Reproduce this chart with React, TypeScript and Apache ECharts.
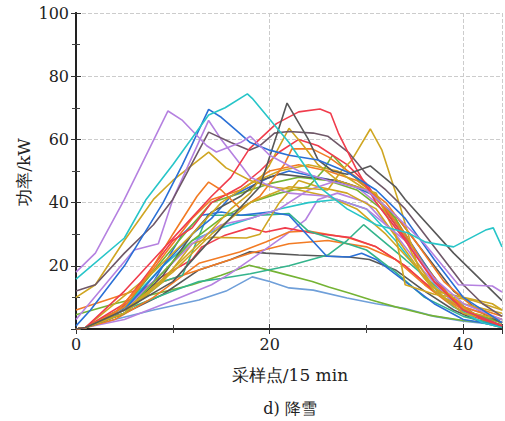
import React, { useEffect, useRef } from "react";
import * as echarts from "echarts";

// x: sampling point index (15 min), y: power (kW)
const xTicks = [0, 20, 40];
const yTicks = [20, 40, 60, 80, 100];

const purpleA = [[0,18],[2,24],[5,41],[9.5,69],[11,66],[13.5,58],[14.5,56],[17,59],[18,61],[20,55],[23,50],[26,47],[30,44],[33,36],[36,27],[39.5,14],[43,13.6],[44,11.7]];
const purpleB = [[0,3],[3,14],[6,25],[8.5,27],[10,41],[13.7,66],[15,60],[16.5,54],[18,48],[19.5,46],[22,43],[26,42],[30,38],[34,28],[37,16],[40,8],[44,3]];
const cyanA = [[0,15.8],[5,28.8],[7.2,40.8],[10,52],[13.7,67.7],[15.4,70],[17.7,74.4],[18.2,73],[22,59],[25.1,45],[28,38],[31,33],[34.3,30.4],[36.1,27.5],[39,26],[42.3,31.3],[43.1,32],[44,26]];
const blueA = [[0,1],[1.5,6],[5,20],[9,40],[11,52],[13.7,69.5],[15,67],[16.5,63],[18,59],[20,56.6],[22,55],[25,53.5],[28,49.7],[31,44],[34,35],[37,22],[40,10],[44,2]];
const grayA = [[0,0],[1,0.5],[5,6],[10,15],[15,32],[19,45],[21.8,71.5],[24,60],[25,53.5],[26.5,50],[28,49],[30.4,51.6],[33,45],[34,41],[39,24],[44,9]];
const brownA = [[0,12],[2,14],[5,24],[8,33],[10,41],[13.7,62.3],[16,59],[17.9,56.6],[19,58],[20.5,62],[22,62.5],[24.5,62],[26,61],[28.2,55.7],[30,49],[32,44],[34,38],[36,30],[38,22],[40,14],[42,8],[44,4]];
const redA = [[0,0],[1,0.5],[5,12],[8,22],[11,32],[14,42],[16,48],[17.9,57],[20.7,65],[23,68.7],[25.2,69.6],[26.3,68.3],[27.1,62],[28.9,51],[31,40],[34,28],[37,15],[40,6],[44,1]];
const yellowA = [[0,0],[1,0.5],[5,6],[10,18],[14,30],[18,40],[22,45],[26,44],[27.4,50],[28.5,53.5],[30.4,63.3],[31.6,56.6],[33.5,38.6],[34.5,28],[35.5,18],[37,12],[40,10],[43,8],[44,6]];
const yellowB = [[0,10],[2,14],[5,28],[8,41],[10,47],[13.7,56],[15.5,51],[18,47],[20,45],[23,44],[26,42],[29,38],[32,30],[35,20],[38,10],[41,5],[44,3]];
const yellowC = [[0,0],[1,0.5],[5,5],[9,16],[13,28],[16,38],[18,43],[20,52],[22,63.5],[23.5,58],[25,52],[27,47],[29,45],[31,43],[33,30],[34,14],[37,11],[41,9],[44,6]];
const yellowD = [[0,0],[1,0.5],[4,8],[8,18],[12,30],[15,40],[18,46],[21,50],[24,52],[27,50],[30,44],[33,35],[35,22],[37,13],[40,8],[44,5]];
const yellowE = [[0,0],[1,0.5],[5,5],[9,15],[12,27],[14,29],[17.6,28.8],[19,30],[21,40],[23,47],[25,45],[28,43],[31,38],[34,25],[37,12],[40,5],[44,2]];
const lightBlue = [[0,0],[1,0.5],[4,3],[8,6],[12.7,9.2],[15.5,12],[18.2,16.5],[20,15],[22,13],[24.5,12.3],[28,9.8],[31,8],[34,6.5],[37,4],[40,2.5],[43,1.5],[44,1]];
const greenLow = [[0,4.5],[4,8],[8,11],[12,14],[15,17],[17.9,20.2],[20.7,18],[24.4,15],[26.1,13.3],[28.2,11.4],[30.5,9.2],[33,7],[36.4,4.4],[40,2.7],[42.6,1.9],[44,1.5]];
const grayLow = [[0,0],[1,0.5],[5,5],[9,11],[12.7,18.7],[16,22],[17.9,24.4],[19.6,24],[23,23.4],[28.2,22.8],[30.3,22],[33,18.7],[36,12],[39,6],[42,2],[44,0.5]];
const blueB = [[0,0],[1,0.5],[4,4],[8,15],[11,30],[13,36],[15,37],[17,36],[20,37],[22,36],[23.5,31],[24.4,28],[25.9,23],[28.2,22.8],[29.5,24],[31,22],[34,15],[37,8],[40,3],[44,1]];
const tealA = [[0,0],[1,0.5],[5,5],[9,15],[11,17],[13.6,36],[16,36],[19,36],[22,36.5],[24,31],[27,28],[30,25],[33,18],[36,10],[40,4],[44,1]];
const greenRise = [[0,0],[1,0.5],[5,6],[10,12],[12.7,15],[15,16],[18,17.5],[22,20],[26,23.4],[28,28],[29.7,33],[30.5,31],[34,22],[37,14],[40,6],[44,1]];
const redB = [[0,0],[1,0.5],[4,5],[8,15],[12,22],[13,26],[15.4,29.7],[17.9,32],[19.6,30.7],[21.6,32],[24.4,30.4],[28.2,29],[31,26],[34,20],[37,12],[40,5],[44,1]];
const orangeA = [[0,0],[1,0.5],[4,3],[8,10],[12.7,20.8],[16.9,24.4],[19.6,27.5],[22,30.7],[24,31],[28.2,28.8],[31,26],[34,20],[37,12],[40,6],[44,2]];
const purpleC = [[0,0],[1,0.5],[5,3],[10,9],[14,14],[16,17.7],[19,24],[21.3,29],[23.7,34.5],[25,41],[27,43],[30,40],[33,30],[36,18],[39,8],[42,3],[44,1]];
const orangeB = [[0,0],[1,0.5],[4,5],[7,15],[10,30],[12.5,42],[13.7,46.5],[15,44],[17,38],[19,42],[21.5,52],[22.3,57],[24.4,57],[26.1,54.4],[29,48],[31,42],[34,30],[37,15],[40,7],[44,3]];
const greenB = [[0,0],[1,0.5],[5,5],[9,18],[12,28],[15,35],[18,40],[21,43],[24,45],[25.5,50],[26.5,55],[28,50],[30,45],[33,35],[36,20],[39,9],[42,3],[44,1]];
const orangeC = [[0,6],[3,9],[6,12],[10,16],[14,20],[18,24],[22,27],[26,28],[30,26],[33,22],[36,14],[39,7],[42,3],[44,1]];
const redC = [[0,0],[1,0.5],[5,8],[8,20],[10,28],[12,32],[14,40],[17,45],[19,50],[21,56],[23,60],[25,58],[28,52],[30,46],[33,33],[36,20],[39,9],[42,3],[44,1]];
const blueC = [[0,0],[1,0.5],[5,6],[9,20],[12,30],[14,35],[16,42],[18,45],[20,48],[22,50],[25,48],[28,46],[31,42],[34,30],[37,16],[40,6],[44,1]];
const cyanB = [[0,0],[1,0.5],[5,7],[9,20],[12,28],[15,32],[18,35],[21,38],[24,40],[27,41],[30,38],[33,28],[36,16],[39,7],[42,2],[44,0.5]];
const greenC = [[0,0],[1,0.5],[5,7],[9,22],[12,33],[14,40],[17,43],[20,46],[23,48],[26,47],[29,44],[32,37],[35,25],[38,12],[41,5],[44,2]];
const purpleD = [[0,0],[1,0.5],[5,6],[9,18],[12,27],[15,33],[18,35],[21,38],[24,44],[27,47],[29,45],[31,40],[34,28],[37,15],[40,7],[44,3]];
const orangeD = [[0,0],[1,0.5],[5,7],[9,23],[12,35],[14,41],[17,44],[20,50],[23,52],[26,50],[29,47],[32,40],[35,28],[38,15],[41,7],[44,4]];
const grayC = [[0,0],[1,0.5],[5,5],[9,17],[12,30],[14,37],[17,42],[19,47],[21,49],[24,48],[27,47],[30,44],[33,36],[36,24],[39,12],[42,5],[44,2]];

const C = {
  purple: "#b581e0",
  cyan: "#27c5c8",
  blue: "#2a70d6",
  gray: "#585858",
  brown: "#6f5868",
  red: "#f03c4c",
  yellow: "#cfa622",
  lightBlue: "#6f9fd9",
  green: "#74b334",
  teal: "#34b48c",
  orange: "#f27b24",
};

const lines: [string, number[][], string][] = [
  ["lightBlue", lightBlue, C.lightBlue],
  ["greenLow", greenLow, C.green],
  ["grayLow", grayLow, C.gray],
  ["orangeC", orangeC, C.orange],
  ["greenRise", greenRise, C.teal],
  ["purpleC", purpleC, C.purple],
  ["orangeA", orangeA, C.orange],
  ["redB", redB, C.red],
  ["tealA", tealA, C.teal],
  ["blueB", blueB, C.blue],
  ["cyanB", cyanB, C.cyan],
  ["yellowE", yellowE, C.yellow],
  ["greenC", greenC, C.green],
  ["purpleD", purpleD, C.purple],
  ["blueC", blueC, C.blue],
  ["grayC", grayC, C.gray],
  ["orangeD", orangeD, C.orange],
  ["yellowD", yellowD, C.yellow],
  ["greenB", greenB, C.green],
  ["redC", redC, C.red],
  ["orangeB", orangeB, C.orange],
  ["yellowB", yellowB, C.yellow],
  ["yellowC", yellowC, C.yellow],
  ["yellowA", yellowA, C.yellow],
  ["purpleB", purpleB, C.purple],
  ["brownA", brownA, C.brown],
  ["redA", redA, C.red],
  ["grayA", grayA, C.gray],
  ["blueA", blueA, C.blue],
  ["purpleA", purpleA, C.purple],
  ["cyanA", cyanA, C.cyan],
];

const FONT = "DejaVu Serif";

export default function App() {
  const ref = useRef<HTMLDivElement>(null);
  useEffect(() => {
    document.body.style.margin = "0";
    if (!ref.current) return;
    const chart = echarts.init(ref.current, null, { renderer: "svg" });
    const axisLine = { show: true, lineStyle: { color: "#222", width: 2 } };
    const tick = { show: true, inside: true, length: 5, lineStyle: { color: "#333", width: 1 } };
    const minor = { show: true, splitNumber: 2, length: 4, lineStyle: { color: "#444", width: 1 } };
    const split = { show: true, lineStyle: { type: "dashed", color: "#cccccc", width: 1 } };
    const labelStyle = { fontFamily: FONT, fontSize: 16, color: "#222", margin: 7 };
    chart.setOption({
      animation: false,
      grid: { left: 76, right: 1, top: 13, bottom: 92, containLabel: false },
      xAxis: [
        {
          type: "value", min: 0, max: 44, interval: 20, position: "bottom",
          axisLine, axisTick: tick, minorTick: minor, splitLine: split,
          axisLabel: { ...labelStyle, formatter: (v: number) => (xTicks.includes(v) ? String(v) : "") },
        },
        {
          type: "value", min: 0, max: 44, interval: 20, position: "top",
          axisLine, axisTick: tick, minorTick: minor, splitLine: { show: false }, axisLabel: { show: false },
        },
      ],
      yAxis: [
        {
          type: "value", min: 0, max: 100, interval: 20, position: "left",
          axisLine, axisTick: tick, minorTick: minor, splitLine: split,
          axisLabel: { ...labelStyle, formatter: (v: number) => (yTicks.includes(v) ? String(v) : "") },
        },
        {
          type: "value", min: 0, max: 100, interval: 20, position: "right",
          axisLine, axisTick: tick, minorTick: minor, splitLine: { show: false }, axisLabel: { show: false },
        },
      ],
      graphic: [
        {
          type: "text", x: 24, y: 172, rotation: Math.PI / 2,
          style: { text: "功率/kW", fontFamily: FONT, fontSize: 17, fill: "#222", align: "center", verticalAlign: "middle" },
        },
        {
          type: "text", x: 290, y: 375,
          style: { text: "采样点/15 min", fontFamily: FONT, fontSize: 17, fill: "#222", align: "center", verticalAlign: "middle" },
        },
        {
          type: "text", x: 290, y: 408,
          style: { text: "d) 降雪", fontFamily: FONT, fontSize: 16, fill: "#222", align: "center", verticalAlign: "middle" },
        },
      ],
      series: lines.map(([name, data, color]) => ({
        name, type: "line", data, showSymbol: false, symbol: "none",
        lineStyle: { color, width: 1.6 }, silent: true, clip: true,
      })),
    });
    return () => chart.dispose();
  }, []);
  return <div ref={ref} style={{ width: 505, height: 421 }} />;
}
